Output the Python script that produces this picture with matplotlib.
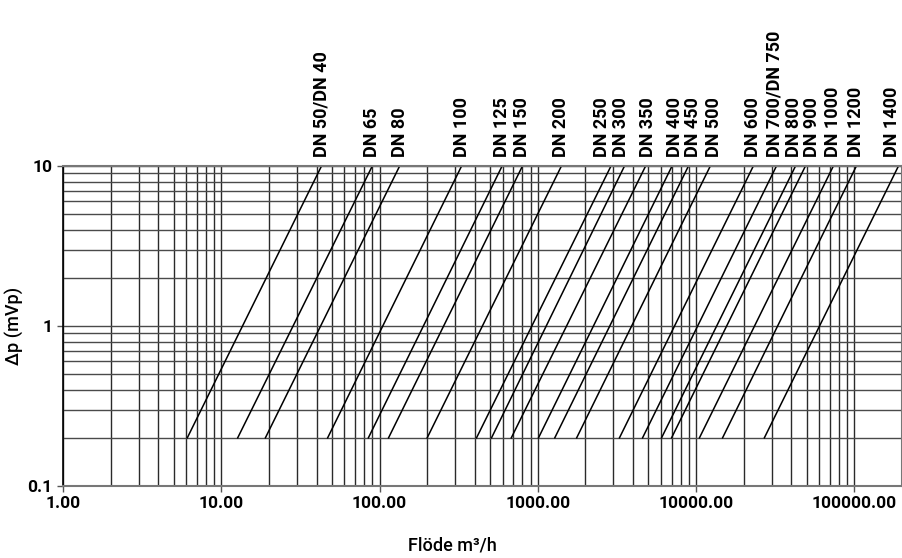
import matplotlib.pyplot as plt
from matplotlib.ticker import FixedLocator, FixedFormatter, NullFormatter, LogLocator
import numpy as np

# Valve sizes and flow at start (Δp = 0.2) and end (Δp = 10) of each line
labels = ['DN 50/DN 40', 'DN 65', 'DN 80', 'DN 100', 'DN 125', 'DN 150', 'DN 200',
          'DN 250', 'DN 300', 'DN 350', 'DN 400', 'DN 450', 'DN 500', 'DN 600',
          'DN 700/DN 750', 'DN 800', 'DN 900', 'DN 1000', 'DN 1200', 'DN 1400']
q_start = [6.1, 12.7, 19, 47, 85, 114, 200, 410, 510, 680, 1010, 1280, 1760,
           3280, 4590, 6050, 7000, 10500, 14700, 27000]
q_end = [43, 90, 134, 330, 595, 800, 1410, 2900, 3530, 4800, 7050, 8950, 12300,
         23000, 32200, 42500, 49100, 73700, 103000, 190000]
dp_start = 0.2
dp_end = 10

x_ticks = [1, 10, 100, 1000, 10000, 100000]
x_ticklabels = ['1.00', '10.00', '100.00', '1000.00', '10000.00', '100000.00']
y_ticks = [0.1, 1, 10]
y_ticklabels = ['0.1', '1', '10']

plt.rcParams['font.family'] = ['Roboto', 'DejaVu Sans']

fig = plt.figure(figsize=(9.03, 5.58), dpi=100)
ax = fig.add_axes([63 / 903, 1 - 486 / 558, (902 - 63) / 903, (486 - 166) / 558])

ax.set_xscale('log')
ax.set_yscale('log')
ax.set_xlim(1, 2e5)
ax.set_ylim(0.1, 10)

# grid
ax.grid(True, which='both', axis='x', color='#2a2a2a', linewidth=1.0)
ax.grid(True, which='both', axis='y', color='#4a4a4a', linewidth=1.0)
ax.set_axisbelow(True)

# diagonal lines
for a, b in zip(q_start, q_end):
    ax.plot([a, b], [dp_start, dp_end], color='black', linewidth=1.1, clip_on=False)

# labels above the plot (small nudges where they crowd)
nudge = {'DN 250': -9, 'DN 300': -4, 'DN 350': 2, 'DN 400': 3, 'DN 450': 5,
         'DN 500': 4, 'DN 700/DN 750': -2, 'DN 800': -2, 'DN 900': 7,
         'DN 1400': -6}
for lab, q in zip(labels, q_end):
    ax.annotate(lab, xy=(q, 1), xycoords=('data', 'axes fraction'),
                xytext=(nudge.get(lab, 0), 9), textcoords='offset pixels',
                rotation=90, ha='center', va='bottom', fontsize=13,
                fontweight='bold')

ax.xaxis.set_major_locator(FixedLocator(x_ticks))
ax.xaxis.set_major_formatter(FixedFormatter(x_ticklabels))
ax.xaxis.set_minor_locator(LogLocator(base=10, subs=np.arange(2, 10)))
ax.xaxis.set_minor_formatter(NullFormatter())
ax.yaxis.set_major_locator(FixedLocator(y_ticks))
ax.yaxis.set_major_formatter(FixedFormatter(y_ticklabels))
ax.yaxis.set_minor_locator(LogLocator(base=10, subs=np.arange(2, 10)))
ax.yaxis.set_minor_formatter(NullFormatter())

ax.tick_params(which='minor', length=0)
ax.tick_params(which='major', length=4, width=1, color='#555555')
for lab in ax.get_xticklabels() + ax.get_yticklabels():
    lab.set_fontsize(12.5)
    lab.set_fontweight('bold')

for side in ['top', 'bottom', 'right']:
    ax.spines[side].set_color('#777777')
    ax.spines[side].set_linewidth(1.5)
ax.spines['left'].set_color('black')
ax.spines['left'].set_linewidth(1.2)

fig.text(15 / 903, 1 - 326 / 558, 'Δp (mVp)', rotation=90, ha='center', va='center',
         fontsize=13, fontweight='medium')
fig.text(452 / 903, 1 - 545 / 558, 'Flöde m³/h', ha='center', va='center',
         fontsize=13, fontweight='medium')

fig.savefig('out.png', dpi=100)
